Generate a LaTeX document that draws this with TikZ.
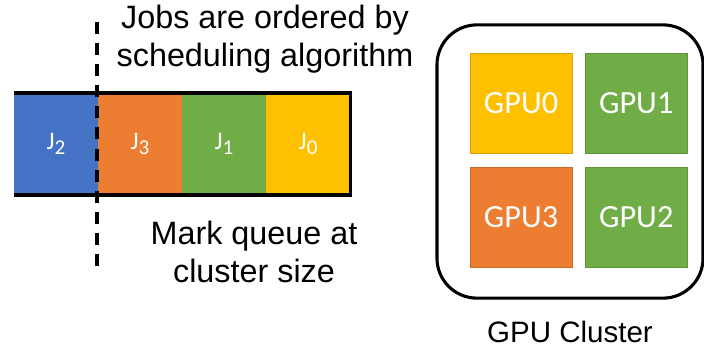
\documentclass[tikz,border=0pt]{standalone}
\usepackage{fontspec}
\setmainfont{Liberation Sans}
\newfontfamily\boxfont{Carlito}
\usepackage{tikz}
\usetikzlibrary{positioning}
\definecolor{jobBlue}{HTML}{4472C4}
\definecolor{jobOrange}{HTML}{ED7D31}
\definecolor{jobGreen}{HTML}{70AD47}
\definecolor{jobYellow}{HTML}{FFC000}
\newcommand{\queueJob}[1]{J\raisebox{-4pt}{\fontsize{15}{17}\selectfont #1}}

\begin{document}
\begin{tikzpicture}[
        x=0.025cm, y=-0.025cm,
        slot/.style={minimum width=2.1cm, minimum height=2.55cm, inner sep=0pt, outer sep=0pt,
            text=white, font=\boxfont\fontsize{18}{21}\selectfont},
        gpu/.style={minimum width=2.55cm, minimum height=2.5cm, inner sep=0pt, outer sep=0pt,
            line width=0.6pt, text=white, font=\boxfont\fontsize{23}{27}\selectfont},
        cluster/.style={draw, line width=2.2pt, rounded corners=1cm,
            minimum width=6.65cm, minimum height=6.83cm},
        note/.style={align=center, font=\fontsize{23}{27}\selectfont},
        queue/.style={line width=2.2pt},
        cut/.style={line width=2.3pt, dash pattern=on 8.5pt off 6.5pt}
    ]
        \useasboundingbox (0,0) rectangle (704,351);

        % job queue
        \node[slot, fill=jobBlue] (j2) at (56,144) {\queueJob{2}};
        \node[slot, fill=jobOrange, right=0pt of j2] (j3) {\queueJob{3}};
        \node[slot, fill=jobGreen, right=0pt of j3] (j1) {\queueJob{1}};
        \node[slot, fill=jobYellow, right=0pt of j1] (j0) {\queueJob{0}};
        \draw[queue] (j2.north west) -- (j0.north east) -- (j0.south east) -- (j2.south west);

        \coordinate (cutTop) at (97,22);
        \coordinate (cutBot) at (97,272);
        \draw[cut] (cutTop) -- (cutBot);

        \node[note] (order) at (265,39) {Jobs are ordered by\\scheduling algorithm};
        \node[note] (mark) at (254,252) {Mark queue at\\cluster size};

        % GPU cluster
        \node[cluster] (cluster) at (570,161.5) {};
        \node[gpu, fill=jobYellow, draw=jobYellow!85!black] (gpu0) at (521,103) {GPU0};
        \node[gpu, fill=jobGreen, draw=jobGreen!85!black, right=0.33cm of gpu0] (gpu1) {GPU1};
        \node[gpu, fill=jobOrange, draw=jobOrange!85!black, below=0.35cm of gpu0] (gpu3) {GPU3};
        \node[gpu, fill=jobGreen, draw=jobGreen!85!black, right=0.33cm of gpu3] (gpu2) {GPU2};

        \node[font=\fontsize{21}{25}\selectfont] (clusterName) at (570,332) {GPU Cluster};
    \end{tikzpicture}
\end{document}
